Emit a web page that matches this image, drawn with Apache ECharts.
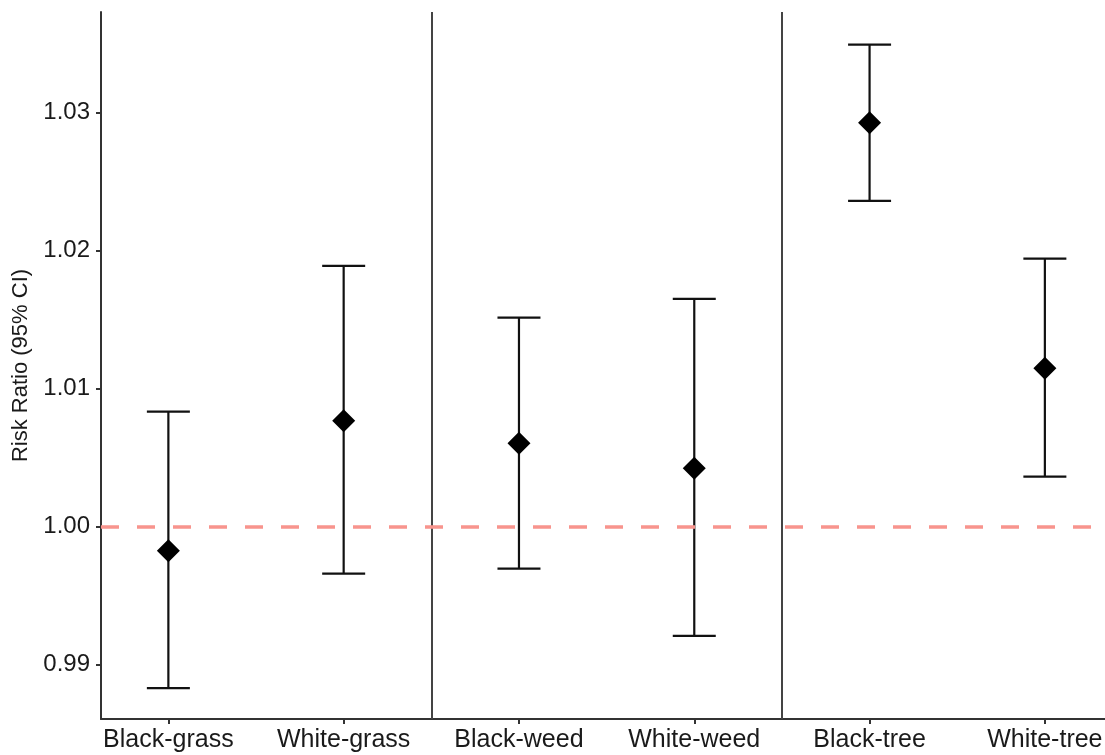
<!DOCTYPE html>
<html>
<head>
<meta charset="utf-8">
<script src="https://cdn.jsdelivr.net/npm/echarts@6/dist/echarts.min.js"></script>
<style>
html,body{margin:0;padding:0;background:#fff;}
#chart{width:1105px;height:755px;}
</style>
</head>
<body>
<div id="chart"></div>
<script>
const categories = ['Black-grass', 'White-grass', 'Black-weed', 'White-weed', 'Black-tree', 'White-tree'];
const estimates = [0.99825, 1.00767, 1.00603, 1.00422, 1.02926, 1.01146];
const lowerCI = [0.98828, 0.99658, 0.99694, 0.99207, 1.02359, 1.00361];
const upperCI = [1.00832, 1.01888, 1.01513, 1.01649, 1.03491, 1.01941];
const yTicks = [0.99, 1.00, 1.01, 1.02, 1.03];
const separators = [2.5, 4.5];
const refLine = 1.0;

const xPos = categories.map((c, i) => i + 1);
const pointData = xPos.map((x, i) => [x, estimates[i]]);
const barData = xPos.map((x, i) => [x, lowerCI[i], upperCI[i]]);

const chart = echarts.init(document.getElementById('chart'));
const textColor = '#1a1a1a';
const font = 'Liberation Sans, Arial, sans-serif';
chart.setOption({
  animation: false,
  backgroundColor: '#ffffff',
  grid: { left: 101, right: 0, top: 12, bottom: 36, containLabel: false, outerBoundsMode: 'none' },
  xAxis: {
    type: 'value',
    min: 0.6157,
    max: 6.343,
    splitLine: { show: false },
    axisLine: { show: true, lineStyle: { color: '#333333', width: 2 } },
    axisTick: { show: true, length: 5, lineStyle: { color: '#333333', width: 2 }, customValues: xPos },
    axisLabel: {
      customValues: xPos,
      color: textColor,
      fontSize: 25,
      fontFamily: font,
      margin: 9,
      hideOverlap: false,
      formatter: v => categories[Math.round(v) - 1] || ''
    }
  },
  yAxis: {
    type: 'value',
    min: 0.98605,
    max: 1.03728,
    name: 'Risk Ratio (95% CI)',
    nameLocation: 'middle',
    nameRotate: 90,
    nameGap: 68,
    nameTextStyle: { color: textColor, fontSize: 22, fontFamily: font },
    splitLine: { show: false },
    axisLine: { show: true, lineStyle: { color: '#333333', width: 2 } },
    axisTick: { show: true, length: 5, lineStyle: { color: '#333333', width: 2 }, customValues: yTicks },
    axisLabel: {
      customValues: yTicks,
      color: textColor,
      fontSize: 24,
      fontFamily: font,
      margin: 11,
      formatter: v => v.toFixed(2)
    }
  },
  series: [
    {
      type: 'line',
      data: [],
      z: 1,
      markLine: {
        silent: true,
        symbol: 'none',
        label: { show: false },
        lineStyle: { color: '#444444', width: 2, type: 'solid' },
        data: separators.map(v => ({ xAxis: v }))
      }
    },
    {
      type: 'line',
      data: [],
      z: 2,
      markLine: {
        silent: true,
        symbol: 'none',
        label: { show: false },
        lineStyle: { color: '#F8948D', width: 3.5, type: [18, 18] },
        data: [{ yAxis: refLine }]
      }
    },
    {
      type: 'custom',
      z: 3,
      data: barData,
      renderItem: function (params, api) {
        const x = api.value(0);
        const lo = api.coord([x, api.value(1)]);
        const hi = api.coord([x, api.value(2)]);
        const hw = 21.5;
        const style = { stroke: '#111111', lineWidth: 2.2 };
        return {
          type: 'group',
          children: [
            { type: 'line', shape: { x1: lo[0], y1: lo[1], x2: hi[0], y2: hi[1] }, style: style },
            { type: 'line', shape: { x1: lo[0] - hw, y1: lo[1], x2: lo[0] + hw, y2: lo[1] }, style: style },
            { type: 'line', shape: { x1: hi[0] - hw, y1: hi[1], x2: hi[0] + hw, y2: hi[1] }, style: style }
          ]
        };
      }
    },
    {
      type: 'scatter',
      z: 4,
      data: pointData,
      symbol: 'diamond',
      symbolSize: [23, 23],
      itemStyle: { color: '#000000', opacity: 1 }
    }
  ]
});
</script>
</body>
</html>
